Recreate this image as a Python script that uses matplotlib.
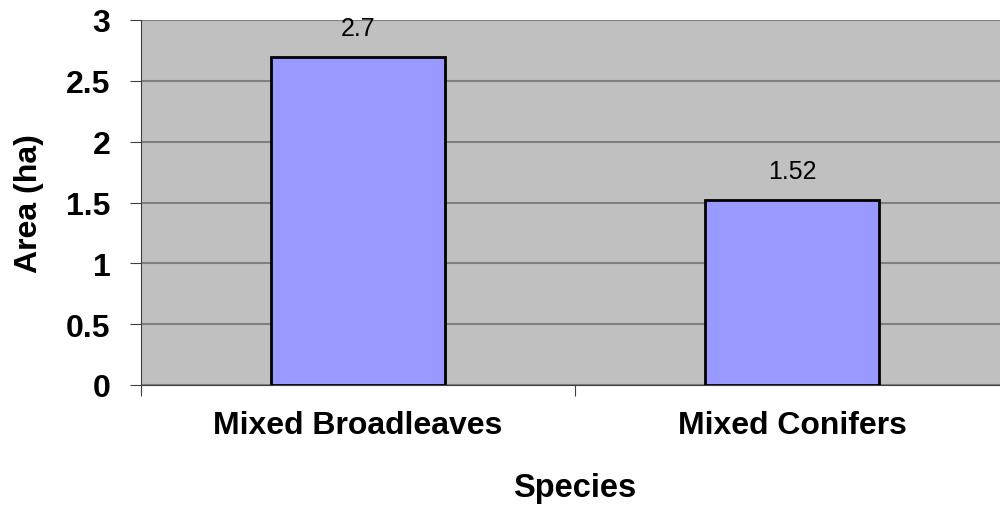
import matplotlib.pyplot as plt

species = ['Mixed Broadleaves', 'Mixed Conifers']
area = [2.7, 1.52]
area_labels = ['2.7', '1.52']

plt.rcParams['font.family'] = ['Liberation Sans', 'DejaVu Sans']

fig = plt.figure(figsize=(10, 5.1), dpi=100)
ax = fig.add_axes([0.141, 1 - 386 / 510, 0.868, (386 - 21) / 510])
ax.set_facecolor('#C0C0C0')

x = list(range(len(species)))
ax.bar(x, area, width=0.4, color='#9999FF', edgecolor='black', linewidth=2, zorder=3)
for xi, v, lab in zip(x, area, area_labels):
    ax.annotate(lab, (xi, v), xytext=(0, 12), textcoords='offset points',
                ha='center', va='bottom', fontsize=18)

ax.set_xlim(-0.5, len(species) - 0.5)
ax.set_ylim(0, 3)
ax.set_yticks([0, 0.5, 1, 1.5, 2, 2.5, 3])
ax.set_yticklabels(['0', '0.5', '1', '1.5', '2', '2.5', '3'], fontsize=23, fontweight='bold')
ax.set_xticks([-0.5, 0.5, 1.5])
ax.set_xticklabels([])
ax.set_xticks(x, minor=True)
ax.set_xticklabels(species, minor=True, fontsize=23, fontweight='bold')
ax.tick_params(axis='x', which='minor', length=0, pad=18)
ax.tick_params(axis='x', which='major', length=8, color='#404040')
ax.tick_params(axis='y', length=8, color='#404040', pad=14)
ax.grid(axis='y', color='#808080', linewidth=1.5, zorder=1)

for s in ['top', 'right']:
    ax.spines[s].set_visible(False)
ax.spines['left'].set_color('#404040')
ax.spines['bottom'].set_color('#404040')

ax.set_xlabel('Species', fontsize=23.5, fontweight='bold', labelpad=23)
ax.set_ylabel('Area (ha)', fontsize=23, fontweight='bold', labelpad=16)

fig.savefig('out.png', dpi=100)
